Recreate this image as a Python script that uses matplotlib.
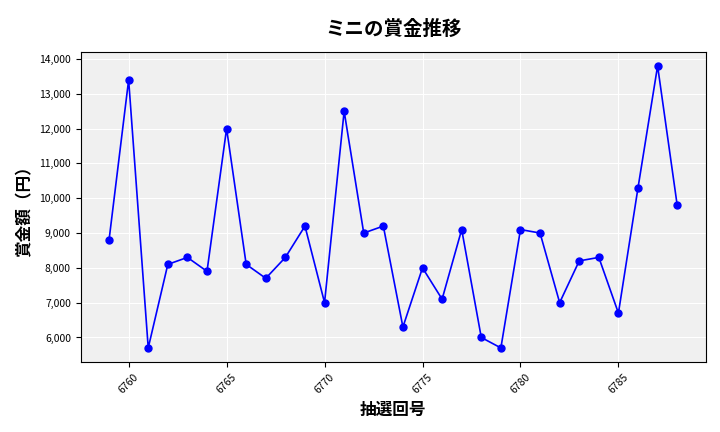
import matplotlib.pyplot as plt
from matplotlib.ticker import FuncFormatter

plt.rcParams['font.family'] = 'Noto Sans CJK JP'

# data
draws = list(range(6759, 6789))
prizes = [8800, 13400, 5700, 8100, 8300, 7900, 12000, 8100, 7700, 8300,
          9200, 7000, 12500, 9000, 9200, 6300, 8000, 7100, 9100, 6000,
          5700, 9100, 9000, 7000, 8200, 8300, 6700, 10300, 13800, 9800]
xticks = [6760, 6765, 6770, 6775, 6780, 6785]

fig, ax = plt.subplots(figsize=(7.2, 4.32), dpi=100)
fig.subplots_adjust(left=0.112, right=0.98, top=0.88, bottom=0.162)
ax.set_facecolor('#f0f0f0')
ax.grid(True, color='white', linewidth=0.8)
ax.set_axisbelow(True)
ax.plot(draws, prizes, color='blue', marker='o', markersize=5, linewidth=1.2)
ax.set_xticks(xticks)
ax.tick_params(axis='x', labelrotation=45, labelsize=7.5)
ax.tick_params(axis='y', labelsize=7.5)
ax.yaxis.set_major_formatter(FuncFormatter(lambda v, p: f'{int(v):,}'))
ax.set_title('ミニの賞金推移', fontsize=14, fontweight='bold', pad=12)
ax.set_xlabel('抽選回号', fontsize=12, fontweight='bold')
ax.set_ylabel('賞金額（円）', fontsize=12, fontweight='bold')
fig.savefig('out.png')
